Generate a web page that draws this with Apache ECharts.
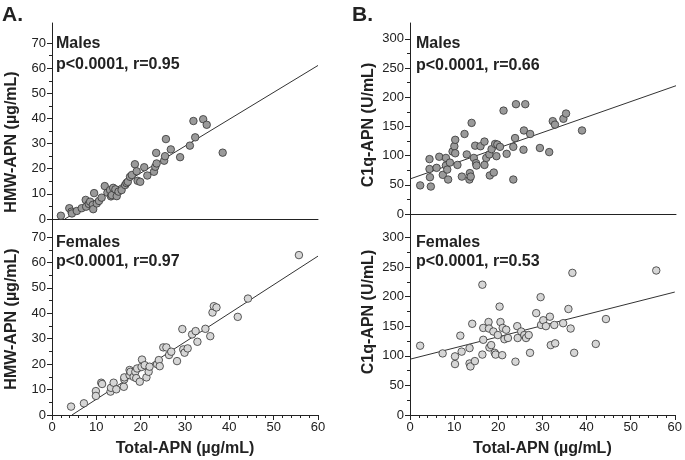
<!DOCTYPE html>
<html><head><meta charset="utf-8">
<script src="https://cdn.jsdelivr.net/npm/echarts@6/dist/echarts.min.js"></script>
<style>html,body{margin:0;padding:0;background:#fff}#c{width:685px;height:460px}</style>
</head><body><div id="c"></div>
<script>
const xTicks = [0, 10, 20, 30, 40, 50, 60];
const hmwTicks = [0, 10, 20, 30, 40, 50, 60, 70];
const hmwMinor = [5, 15, 25, 35, 45, 55, 65];
const c1qTicks = [0, 50, 100, 150, 200, 250, 300];
const c1qMinor = [25, 75, 125, 175, 225, 275];

const hmwMales = [[2.0,1.3],[3.9,4.3],[4.4,2.9],[4.5,2.2],[5.6,3.2],[6.7,4.3],[7.6,7.6],[7.7,4.9],[8.3,6.0],[8.6,6.9],[9.2,5.6],[9.3,3.9],[9.5,10.3],[10.1,6.2],[10.6,7.2],[11.2,8.5],[11.9,13.1],[12.5,10.5],[13.1,11.5],[13.3,9.0],[13.5,9.5],[13.8,12.4],[14.3,11.8],[14.6,9.1],[15.0,10.9],[15.7,11.5],[16.5,13.5],[16.8,14.3],[17.1,14.8],[17.6,16.8],[18.0,17.5],[18.7,21.8],[19.1,19.0],[19.3,15.2],[19.9,14.8],[20.8,20.6],[21.5,17.3],[23.0,18.8],[23.3,20.8],[23.5,26.3],[23.6,22.1],[25.3,23.2],[25.5,25.0],[25.7,31.8],[26.8,27.7],[28.9,24.6],[31.1,29.2],[31.9,39.0],[32.3,32.5],[34.1,39.7],[34.9,37.5],[38.5,26.4]];
const hmwFemales = [[4.3,3.3],[7.2,4.6],[9.9,9.4],[9.9,7.5],[11.1,12.7],[11.3,12.2],[13.2,9.2],[13.3,10.7],[13.9,12.7],[14.5,10.1],[16.2,11.1],[16.3,14.0],[16.3,14.8],[17.5,15.7],[17.5,17.7],[17.7,17.0],[18.4,15.0],[18.8,17.0],[19.0,14.5],[19.2,18.3],[19.8,13.1],[20.2,18.9],[20.3,21.8],[20.9,19.6],[21.3,14.8],[21.8,17.0],[22.0,19.0],[23.7,20.0],[24.1,21.6],[24.3,19.2],[25.1,26.6],[25.8,26.6],[26.4,23.6],[26.9,24.9],[28.2,21.2],[29.4,33.8],[29.6,25.8],[29.9,24.5],[30.6,26.2],[31.6,31.7],[32.4,33.0],[32.8,28.8],[34.6,33.9],[35.7,31.0],[36.2,40.3],[36.5,42.8],[37.1,42.3],[41.9,38.6],[44.2,45.8],[55.7,62.9]];
const c1qMales = [[2.3,49],[4.4,94],[4.5,63],[4.7,47],[4.4,77],[6.0,79],[6.6,98],[7.4,67],[8.1,96],[8.1,83],[8.4,76],[8.6,59],[9.0,88],[9.6,107],[10.0,116],[10.2,127],[10.2,104],[10.7,84],[11.7,64],[12.3,137],[12.8,102],[13.4,59],[13.5,70],[13.7,64],[13.9,156],[14.4,96],[14.7,117],[14.9,87],[15.0,83],[15.9,116],[16.8,124],[16.8,84],[17.2,96],[17.9,102],[18.0,66],[18.4,111],[18.9,71],[19.2,120],[19.5,99],[19.7,119],[20.3,115],[21.1,177],[21.8,103],[23.3,115],[23.3,59],[23.7,130],[23.9,188],[25.6,110],[25.7,143],[26.0,188],[27.1,137],[29.3,113],[31.4,106],[32.2,159],[32.7,153],[34.6,163],[35.2,172],[38.8,143]];
const c1qFemales = [[2.3,117],[7.4,104],[10.2,99],[10.2,86],[11.4,134],[11.7,107],[13.5,113],[13.5,87],[13.7,82],[14.1,154],[14.7,91],[16.4,102],[16.4,220],[16.6,147],[16.6,127],[17.8,157],[17.9,146],[18.0,114],[18.4,118],[18.9,141],[19.2,105],[19.4,102],[19.9,135],[20.3,183],[20.5,157],[20.9,101],[21.0,147],[21.4,128],[21.8,144],[22.2,130],[23.9,90],[24.3,150],[24.4,130],[25.2,141],[25.9,135],[26.3,130],[26.9,135],[27.2,105],[28.6,172],[29.6,199],[29.7,152],[30.2,160],[30.8,150],[31.7,166],[31.9,118],[32.7,152],[32.9,121],[34.7,155],[35.9,179],[36.4,146],[36.8,240],[37.2,105],[42.1,120],[44.4,162],[55.8,244]];

const fitHmwMales = [[2.9,0],[60,61.1]];
const fitHmwFemales = [[4.5,0],[60,62.5]];
const fitC1qMales = [[0,60],[60,219.6]];
const fitC1qFemales = [[0,94.2],[60,207.6]];

const FONT = "'Liberation Sans', Arial, sans-serif";
const INK = '#222';
const chart = echarts.init(document.getElementById('c'));

const grids = [
  {left: 52, width: 266, top: 23, height: 196},
  {left: 52, width: 266, top: 219, height: 196},
  {left: 410, width: 266, top: 23, height: 191},
  {left: 410, width: 266, top: 214, height: 201}
];
function xAx(i, bottom) {
  const a = {type: 'value', gridIndex: i, min: 0, max: 60, interval: 10,
    axisLine: {show: true, lineStyle: {color: INK, width: 1}},
    splitLine: {show: false}};
  if (bottom) {
    Object.assign(a, {
      axisTick: {show: true, length: 5, lineStyle: {color: INK}},
      minorTick: {show: true, splitNumber: 5, length: 3, lineStyle: {color: INK}},
      axisLabel: {show: true, color: INK, fontSize: 13, fontFamily: FONT, margin: 6, customValues: xTicks},
      name: 'Total-APN (µg/mL)', nameLocation: 'middle', nameGap: 26,
      nameTextStyle: {color: INK, fontSize: 16, fontWeight: 'bold', fontFamily: FONT}
    });
  } else {
    Object.assign(a, {axisTick: {show: false}, axisLabel: {show: false}});
  }
  return a;
}
function yAx(i, max, ticks) {
  return {type: 'value', gridIndex: i, min: 0, max: max, position: 'left',
    axisLine: {show: true, onZero: false, lineStyle: {color: INK, width: 1}},
    axisTick: {show: true, length: 5, customValues: ticks, lineStyle: {color: INK}},
    axisLabel: {show: true, color: INK, fontSize: 13, fontFamily: FONT, margin: 6, customValues: ticks},
    splitLine: {show: false}};
}
function yMinor(i, max, ticks) {
  return {type: 'value', gridIndex: i, min: 0, max: max, position: 'left', offset: 0,
    axisLine: {show: false},
    axisTick: {show: true, length: 3, customValues: ticks, lineStyle: {color: INK}},
    axisLabel: {show: false}, splitLine: {show: false}};
}
function pts(data, xi, yi, fill) {
  return {type: 'scatter', xAxisIndex: xi, yAxisIndex: yi, data: data, symbolSize: 7.5,
    itemStyle: {color: fill, borderColor: '#333', borderWidth: 0.8, opacity: 1}, z: 3};
}
function fit(data, xi, yi) {
  return {type: 'line', xAxisIndex: xi, yAxisIndex: yi, data: data, symbol: 'none',
    lineStyle: {color: '#333', width: 1}, z: 2, clip: true};
}
function txt(t, x, y, size, rot) {
  return {type: 'text', x: x, y: y, rotation: rot || 0,
    style: {text: t, fill: INK, font: 'bold ' + size + 'px ' + FONT,
      align: rot ? 'center' : 'left', verticalAlign: 'middle'}};
}
const MALE = '#9a9a9a', FEMALE = '#d6d6d6';
chart.setOption({
  animation: false,
  backgroundColor: '#fff',
  grid: grids,
  xAxis: [xAx(0, false), xAx(1, true), xAx(2, false), xAx(3, true)],
  yAxis: [yAx(0, 78, hmwTicks), yAx(1, 77.1, hmwTicks), yAx(2, 327, c1qTicks), yAx(3, 339.4, c1qTicks),
          yMinor(0, 78, hmwMinor), yMinor(1, 77.1, hmwMinor), yMinor(2, 327, c1qMinor), yMinor(3, 339.4, c1qMinor)],
  series: [
    fit(fitHmwMales, 0, 0), pts(hmwMales, 0, 0, MALE),
    fit(fitHmwFemales, 1, 1), pts(hmwFemales, 1, 1, FEMALE),
    fit(fitC1qMales, 2, 2), pts(c1qMales, 2, 2, MALE),
    fit(fitC1qFemales, 3, 3), pts(c1qFemales, 3, 3, FEMALE)
  ],
  graphic: [
    txt('A.', 2, 15, 21), txt('B.', 352, 15, 21),
    txt('Males', 56, 44, 16), txt('p<0.0001, r=0.95', 56, 65, 16),
    txt('Females', 56, 243, 16), txt('p<0.0001, r=0.97', 56, 262, 16),
    txt('Males', 416, 44, 16), txt('p<0.0001, r=0.66', 416, 66, 16),
    txt('Females', 416, 243, 16), txt('p<0.0001, r=0.53', 416, 262, 16),
    txt('HMW-APN (µg/mL)', 12, 142, 16, Math.PI / 2),
    txt('HMW-APN (µg/mL)', 12, 319, 16, Math.PI / 2),
    txt('C1q-APN (U/mL)', 369, 125, 16, Math.PI / 2),
    txt('C1q-APN (U/mL)', 369, 312, 16, Math.PI / 2)
  ]
});
</script></body></html>
